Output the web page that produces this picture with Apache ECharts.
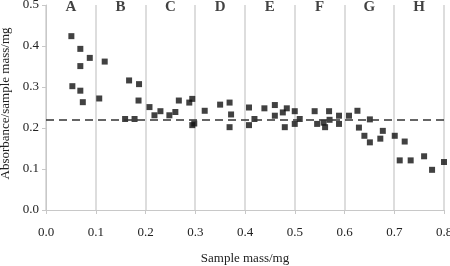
<!DOCTYPE html>
<html>
<head>
<meta charset="utf-8">
<script src="https://cdn.jsdelivr.net/npm/echarts@6/dist/echarts.min.js"></script>
<style>
  html, body { margin: 0; padding: 0; background: #fff; }
  #chart { width: 450px; height: 266px; }
</style>
</head>
<body>
<div id="chart"></div>
<script>
// sample mass (mg) and absorbance per mass
var massData = [
  0.051, 0.069, 0.088, 0.069, 0.053, 0.069, 0.074,
  0.107, 0.118, 0.167, 0.187, 0.186, 0.159, 0.178,
  0.208, 0.218, 0.230, 0.248, 0.260, 0.267, 0.288, 0.294, 0.294, 0.298,
  0.319, 0.350, 0.369, 0.372, 0.369,
  0.408, 0.419, 0.408, 0.439, 0.460, 0.460, 0.476, 0.484, 0.480, 0.500, 0.500,
  0.510, 0.540, 0.545, 0.569, 0.558, 0.561, 0.570, 0.589, 0.589,
  0.609, 0.626, 0.629, 0.651, 0.640, 0.651, 0.677, 0.672,
  0.701, 0.721, 0.711, 0.733, 0.760, 0.776, 0.800
]
var absData = [
  0.424, 0.393, 0.371, 0.351, 0.302, 0.291, 0.263,
  0.272, 0.362, 0.316, 0.307, 0.267, 0.222, 0.222,
  0.251, 0.231, 0.241, 0.231, 0.239, 0.267, 0.262, 0.271, 0.207, 0.211,
  0.242, 0.257, 0.262, 0.233, 0.202,
  0.250, 0.222, 0.207, 0.248, 0.256, 0.230, 0.238, 0.248, 0.202, 0.241, 0.210,
  0.222, 0.241, 0.210, 0.241, 0.213, 0.202, 0.220, 0.230, 0.210,
  0.230, 0.242, 0.201, 0.221, 0.181, 0.165, 0.193, 0.174,
  0.181, 0.167, 0.121, 0.121, 0.131, 0.098, 0.117
]
var bandNames = ['A', 'B', 'C', 'D', 'E', 'F', 'G', 'H']
var bandCenters = [0.05, 0.15, 0.25, 0.35, 0.45, 0.55, 0.65, 0.75]
var meanValue = 0.22

var serif = 'Liberation Serif'
var chart = echarts.init(document.getElementById('chart'), null, { renderer: 'canvas' })

var points = massData.map(function (m, i) { return [m, absData[i]] })
var bands = bandNames.map(function (n, i) { return [bandCenters[i], 0.495, n] })

chart.setOption({
  animation: false,
  grid: { left: 46, right: 6, top: 5, bottom: 56, outerBoundsMode: 'none', containLabel: false },
  xAxis: {
    type: 'value', min: 0, max: 0.8, interval: 0.1,
    name: 'Sample mass/mg', nameLocation: 'middle', nameGap: 42,
    nameTextStyle: { fontFamily: serif, fontSize: 13, color: '#222' },
    axisLine: { show: true, lineStyle: { color: '#c8c8c8', width: 1 } },
    axisTick: { show: true, length: 4, lineStyle: { color: '#c8c8c8' } },
    splitLine: { show: true, lineStyle: { color: '#d2d2d2', width: 1.5 } },
    axisLabel: {
      fontFamily: serif, fontSize: 13, color: '#222', margin: 16,
      formatter: function (v) { return v.toFixed(1) }
    }
  },
  yAxis: {
    type: 'value', min: 0, max: 0.5, interval: 0.1,
    name: 'Absorbance/sample mass/mg', nameLocation: 'middle', nameGap: 31,
    nameTextStyle: { fontFamily: serif, fontSize: 13, color: '#222', padding: [0, 0, 0, 8] },
    axisLine: { show: true, lineStyle: { color: '#c8c8c8', width: 1 } },
    axisTick: { show: true, length: 4, lineStyle: { color: '#c8c8c8' } },
    splitLine: { show: false },
    axisLabel: {
      fontFamily: serif, fontSize: 13, color: '#222', margin: 7,
      formatter: function (v) { return v.toFixed(1) }
    }
  },
  series: [
    {
      type: 'scatter',
      data: points,
      symbol: 'rect',
      symbolSize: 6,
      clip: false,
      itemStyle: { color: '#111' },
      z: 3,
      markLine: {
        silent: true,
        symbol: 'none',
        label: { show: false },
        lineStyle: { color: '#333', type: [8, 5], width: 1.6 },
        data: [{ yAxis: meanValue }]
      }
    },
    {
      type: 'scatter',
      data: bands,
      symbolSize: 0,
      silent: true,
      clip: false,
      label: {
        show: true, position: 'inside',
        formatter: function (p) { return p.data[2] },
        fontFamily: serif, fontSize: 15, fontWeight: 'bold', color: '#111'
      }
    }
  ]
})
</script>
</body>
</html>
